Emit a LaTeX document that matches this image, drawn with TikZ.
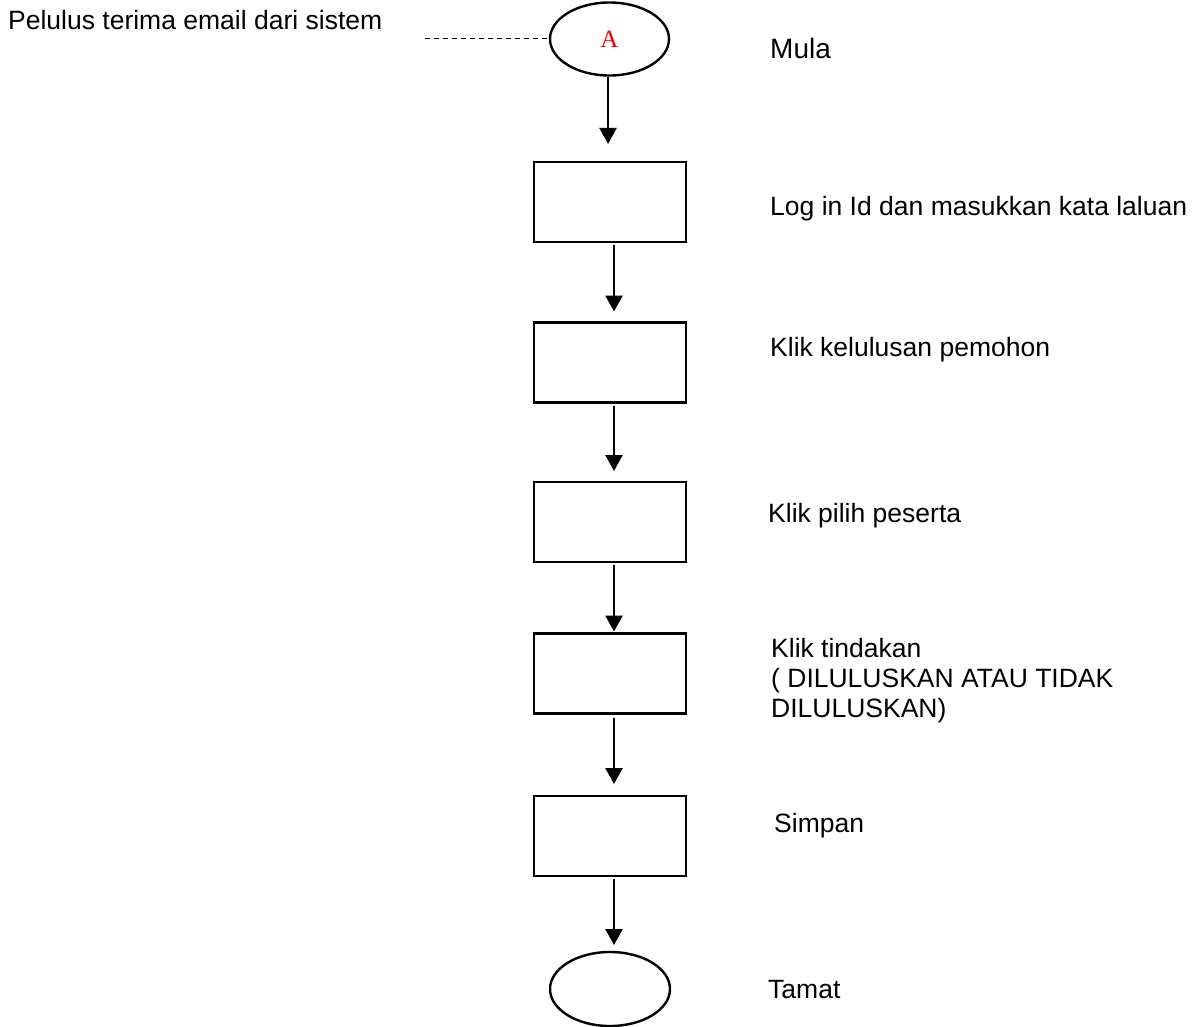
\documentclass[tikz,border=0pt]{standalone}
\usepackage{fontspec}
\setmainfont{Liberation Sans}
\newfontfamily\serifA{Liberation Serif}
\usetikzlibrary{arrows.meta,shapes.geometric}
\begin{document}
\begin{tikzpicture}[x=1pt,y=-1pt,
  flowline/.style={line width=2.4pt},
  terminal/.style={ellipse,draw,flowline,inner sep=0pt,outer sep=0pt,minimum width=119pt,minimum height=73pt},
  stepbox/.style={rectangle,draw,flowline,inner sep=0pt,outer sep=0pt,minimum width=152pt,minimum height=80pt},
  flow/.style={flowline,-{Triangle[length=16pt,width=17pt]}},
  lbl/.style={anchor=base west,inner sep=0pt,font=\fontsize{26.5}{30}\selectfont}
]
\useasboundingbox (0,0) rectangle (1199,1027);

% shapes of the flow
\node[terminal] (start) at (609.5,39) {\serifA\fontsize{25}{27}\selectfont\color{red}A};
\node[stepbox] (b1) at (610,202) {};
\node[stepbox] (b2) at (610,362.5) {};
\node[stepbox] (b3) at (610,522) {};
\node[stepbox] (b4) at (610,673.5) {};
\node[stepbox] (b5) at (610,836) {};
\node[terminal,minimum width=120pt,minimum height=74pt] (end) at (610,989) {};

% connectors
\draw[flow,shorten <=2pt,shorten >=18pt] ([xshift=-1.5pt]start.south) -- ([xshift=-1.5pt]start.south |- b1.north);
\draw[flow,shorten <=3pt,shorten >=11pt] ([xshift=4pt]b1.south) -- ([xshift=4pt]b2.north);
\draw[flow,shorten <=3pt,shorten >=11pt] ([xshift=4pt]b2.south) -- ([xshift=4pt]b3.north);
\draw[flow,shorten <=3pt,shorten >=2pt] ([xshift=4pt]b3.south) -- ([xshift=4pt]b4.north);
\draw[flow,shorten <=4pt,shorten >=12pt] ([xshift=4pt]b4.south) -- ([xshift=4pt]b5.north);
\draw[flow,shorten <=3pt,shorten >=7pt] ([xshift=4pt]b5.south) -- ([xshift=4pt]b5.south |- end.north);

% dashed note line
\coordinate (noteend) at (425,39);
\draw[line width=1pt,dash pattern=on 5pt off 4pt] (noteend) -- (start.west);

% texts
\node[lbl] (note) at (8,30) {Pelulus terima email dari sistem};
\node[lbl,font=\fontsize{28}{32}\selectfont] (t0) at (770,59) {Mula};
\node[lbl] (t1) at (770,215) {Log in Id dan masukkan kata laluan};
\node[lbl] (t2) at (770,356) {Klik kelulusan pemohon};
\node[lbl] (t3) at (768,522) {Klik pilih peserta};
\node[lbl] (t4) at (771,657) {\vtop{\baselineskip=30pt\hbox{Klik tindakan}\hbox{( DILULUSKAN ATAU TIDAK}\hbox{DILULUSKAN)}}};
\node[lbl] (t5) at (774,832) {Simpan};
\node[lbl] (t6) at (768,998) {Tamat};
\end{tikzpicture}
\end{document}
